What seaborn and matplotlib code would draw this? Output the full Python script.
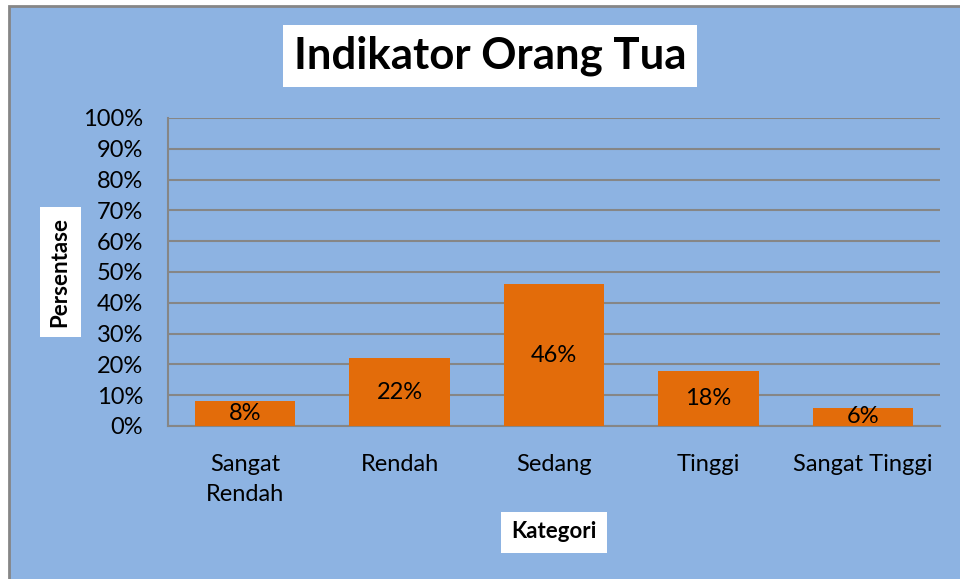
import matplotlib
matplotlib.use("Agg")
import matplotlib.pyplot as plt
import matplotlib.patches as mpatches
import seaborn as sns
import pandas as pd

# data
kategori = ["Sangat Rendah", "Rendah", "Sedang", "Tinggi", "Sangat Tinggi"]
label_kategori = ["Sangat\nRendah", "Rendah", "Sedang", "Tinggi", "Sangat Tinggi"]
persen = [8, 22, 46, 18, 6]
yticks = [0, 10, 20, 30, 40, 50, 60, 70, 80, 90, 100]

BIRU = "#8DB3E2"
ORANYE = "#E36C0A"
ABU = "#868686"

sns.set_theme(style="white")
plt.rcParams["font.family"] = ["Lato", "DejaVu Sans"]
plt.rcParams["text.color"] = "black"

df = pd.DataFrame({"kategori": kategori, "persen": persen})

fig = plt.figure(figsize=(9.6, 5.79), dpi=100, facecolor="white")
# kotak latar chart (seperti Excel)
fig.patches.append(mpatches.Rectangle((9 / 960, -0.05), 1.1, 1 - 6 / 579 + 0.05,
                                      transform=fig.transFigure, facecolor=BIRU,
                                      edgecolor=ABU, linewidth=2, zorder=-10))

ax = fig.add_axes([168 / 960, 1 - 426 / 579, (940 - 168) / 960, (426 - 118) / 579])
ax.set_zorder(1)
ax.set_facecolor(BIRU)

sns.barplot(data=df, x="kategori", y="persen", color=ORANYE, saturation=1,
            width=0.65, linewidth=0, edgecolor="none", ax=ax, zorder=3)

ax.set_ylim(0, 100)
ax.set_yticks(yticks)
ax.set_yticklabels([f"{v}%" for v in yticks])
ax.set_xticks(range(len(kategori)))
ax.set_xticklabels(label_kategori, linespacing=1.55)
ax.tick_params(axis="both", labelsize=17, colors="black", length=0)
ax.tick_params(axis="y", pad=18)
ax.tick_params(axis="x", pad=20)
ax.grid(axis="y", color=ABU, linewidth=1.5, zorder=0)
ax.set_axisbelow(True)
for s in ["top", "right"]:
    ax.spines[s].set_visible(False)
for s in ["left", "bottom"]:
    ax.spines[s].set_color(ABU)
    ax.spines[s].set_linewidth(1.5)
ax.set_xlabel("")
ax.set_ylabel("")

ax.bar_label(ax.containers[0], labels=[f"{v}%" for v in persen],
             label_type="center", fontsize=17, color="black")

# judul dan label sumbu dalam kotak putih
fig.text(490 / 960, 1 - 56 / 579, "Indikator Orang Tua", fontsize=31.5, fontweight="bold",
         ha="center", va="center", color="black",
         bbox=dict(facecolor="white", edgecolor="none", boxstyle="square,pad=0.25"))
fig.text(60 / 960, 1 - 272 / 579, "Persentase", fontsize=16, fontweight="bold",
         rotation=90, ha="center", va="center", color="black",
         bbox=dict(facecolor="white", edgecolor="none", boxstyle="square,pad=0.45"))
fig.text(554 / 960, 1 - 532 / 579, "Kategori", fontsize=16, fontweight="bold",
         ha="center", va="center", color="black",
         bbox=dict(facecolor="white", edgecolor="none", boxstyle="square,pad=0.45"))

fig.savefig("out.png", dpi=100, facecolor="white")
